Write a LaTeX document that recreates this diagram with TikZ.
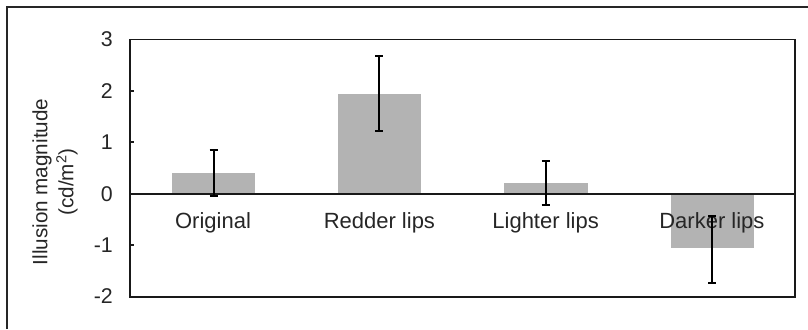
\documentclass[tikz,border=0pt]{standalone}
\usepackage{fontspec}
\setmainfont{Liberation Sans}
\begin{document}
\begin{tikzpicture}[x=0.75pt,y=-0.75pt,
  barfill/.style={fill=barcol,draw=none},
  axisline/.style={line width=1.3pt,draw=black!90},
  errbar/.style={line width=1.5pt,draw=black},
  catlabel/.style={anchor=base,inner sep=0pt,font=\fontsize{16.5pt}{18pt}\selectfont,text=black!85},
  ticklabel/.style={anchor=east,inner sep=0pt,font=\fontsize{16pt}{18pt}\selectfont,text=black!85},
  framestyle/.style={line width=1.8pt,draw=black!85}]
\definecolor{barcol}{HTML}{B3B3B3}
\useasboundingbox (0,0) rectangle (808,329);
% outer frame (cropped)
\coordinate (f1) at (7,329);
\coordinate (f2) at (7,7);
\coordinate (f3) at (808,7);
\draw[framestyle] (f1) -- (f2) -- (f3);
% bars
\fill[barfill] (172.3,193.7) rectangle (255,173);
\fill[barfill] (338.3,193.7) rectangle (420.7,93.7);
\fill[barfill] (504.3,193.7) rectangle (587.7,183);
\fill[barfill] (670.7,193.7) rectangle (754,248.3);
% plot frame
\node[draw=none,inner sep=0pt,minimum width=0pt] (pa) at (130,39.5) {};
\node[draw=none,inner sep=0pt] (pb) at (795,296.7) {};
\draw[axisline] (pa) rectangle (pb);
\coordinate (z0) at (130,193.7);
\coordinate (z1) at (795,193.7);
\draw[axisline] (z0) -- (z1);
% ticks
\foreach \yy/\lab in {39.5/3,90.9/2,142.3/1,193.7/0,245.1/-1,296.5/-2}{
  \draw[axisline] (130,\yy) -- (134,\yy);
  \node[ticklabel] at (113,\yy) {\lab};
}
% y label
\node[rotate=90,align=center,inner sep=0pt,font=\fontsize{15.5pt}{19.5pt}\selectfont,text=black!85] (ylab) at (55,182) {Illusion magnitude\\(cd/m\textsuperscript{2})};
% category labels
\node[catlabel] (c1) at (213,228) {Original};
\node[catlabel] (c2) at (379.4,228) {Redder lips};
\node[catlabel] (c3) at (545.6,228) {Lighter lips};
\node[catlabel] (c4) at (711.9,228) {Darker lips};
% error bars
\foreach \xx/\ya/\yb in {213.7/150.3/196, 379.3/56.3/131, 545.7/161.3/205, 712/216/282.7}{
  \draw[errbar] (\xx,\ya) -- (\xx,\yb);
  \draw[errbar] (\xx-4,\ya) -- (\xx+4,\ya);
  \draw[errbar] (\xx-4,\yb) -- (\xx+4,\yb);
}
\end{tikzpicture}
\end{document}
